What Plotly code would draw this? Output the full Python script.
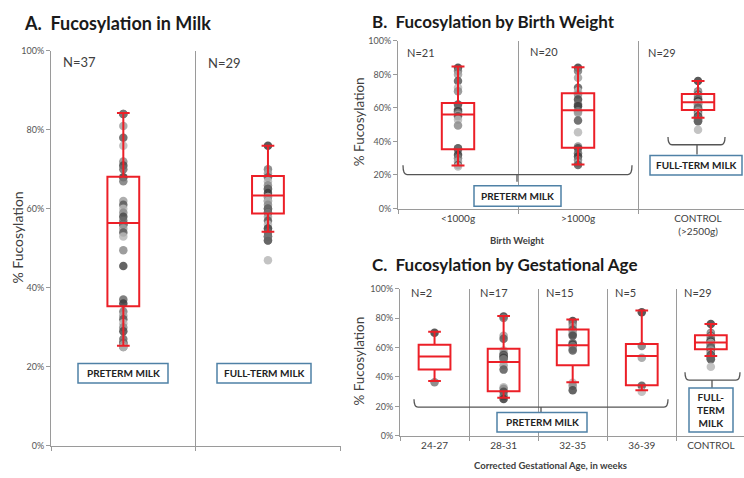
import plotly.graph_objects as go

W, H = 744, 478
RED = "#ec1f27"
AX = "#9a9a9a"
TXT = "#404040"
BOXBLUE = "#4f81a6"
FONT = "Lato, 'Open Sans', sans-serif"

# ---------------- data ----------------
a_cats = ["Preterm", "Full-term"]
a_preterm = [84, 84, 81, 78, 76, 72, 71, 70, 68, 67, 62, 61, 60, 59, 58, 57, 56, 56, 55,
             54, 53, 49.5, 45.5, 37, 36, 34, 33, 32, 31, 30, 29, 27, 26, 26, 25.5, 25, 25]
full_term = [76, 70, 69, 68, 67, 66, 65, 65, 64, 63, 63, 62, 62, 61, 60, 60, 59, 59, 58, 57,
             56, 55, 55, 54, 53, 53, 52, 52, 47]

b_cats = ["<1000g", ">1000g", "CONTROL<br>(>2500g)"]
b_lt1000 = [84, 82, 80, 76, 72, 70, 62, 59, 58, 57, 56, 55, 53, 49.5, 36, 35, 32, 30, 28, 26, 25]
b_gt1000 = [84, 82, 78, 72, 70, 68, 65, 62, 61, 58, 57, 52.5, 45.5, 37, 36, 33, 31, 29, 27, 26]

c_cats = ["24-27", "28-31", "32-35", "36-39", "CONTROL"]
c_24_27 = [70, 36.5]
c_28_31 = [81, 80, 68, 66, 58, 56, 55, 54, 53, 52, 48, 45, 33, 32, 30, 27, 25]
c_32_35 = [78, 76, 74, 72, 70, 69, 68, 63, 62, 61, 59, 58, 36, 34, 31]
c_36_39 = [84, 61, 53, 34, 30]

# box statistics: lower whisker, q1, median, q3, upper whisker
stat_preterm = [25.3, 35.3, 56.4, 68.1, 84.3]
stat_full = [54.2, 58.8, 63.4, 68.3, 76.0]
stat_lt1000 = [25.6, 35.3, 56.1, 62.9, 84.7]
stat_gt1000 = [26.2, 36.3, 58.6, 68.8, 84.3]
stat_24_27 = [37.2, 45.1, 53.9, 61.9, 70.8]
stat_28_31 = [25.9, 30.3, 50.2, 59.1, 81.4]
stat_32_35 = [36.5, 48.0, 61.5, 72.3, 79.0]
stat_36_39 = [31.0, 34.3, 54.2, 62.4, 85.1]

n_a = ["N=37", "N=29"]
n_b = ["N=21", "N=20", "N=29"]
n_c = ["N=2", "N=17", "N=15", "N=5", "N=29"]

y_ticks = [0, 20, 40, 60, 80, 100]
y_labels = [f"{v}%" for v in y_ticks]

GREYS = ["#3c3c3c", "#7a7a7a", "#a0a0a0", "#5a5a5a", "#b8b8b8", "#8c8c8c", "#4a4a4a", "#6a6a6a"]

def px(x):
    return x / W

def py(y):
    return 1 - y / H

fig = go.Figure()

# points on base axes, boxes on overlaying axes so red lines sit above the dots
def add_group(cat, vals, stat, width, xa, ya, xb, yb):
    shades = [GREYS[i % len(GREYS)] for i in range(len(vals))]
    fig.add_trace(go.Scatter(x=[cat] * len(vals), y=vals, mode="markers",
                             marker=dict(size=8.5, color=shades, opacity=0.85, line=dict(width=0)),
                             xaxis=xa, yaxis=ya, hoverinfo="y", showlegend=False))
    fig.add_trace(go.Box(x=[cat], lowerfence=[stat[0]], q1=[stat[1]], median=[stat[2]],
                         q3=[stat[3]], upperfence=[stat[4]], width=width, whiskerwidth=0.4,
                         line=dict(color=RED, width=2), fillcolor="rgba(0,0,0,0)",
                         boxpoints=False, xaxis=xb, yaxis=yb, showlegend=False))

add_group(a_cats[0], a_preterm, stat_preterm, 0.22, "x", "y", "x4", "y4")
add_group(a_cats[1], full_term, stat_full, 0.22, "x", "y", "x4", "y4")
add_group(b_cats[0], b_lt1000, stat_lt1000, 0.27, "x2", "y2", "x5", "y5")
add_group(b_cats[1], b_gt1000, stat_gt1000, 0.27, "x2", "y2", "x5", "y5")
add_group(b_cats[2], full_term, stat_full, 0.27, "x2", "y2", "x5", "y5")
for cat, vals, st in zip(c_cats, [c_24_27, c_28_31, c_32_35, c_36_39, full_term],
                         [stat_24_27, stat_28_31, stat_32_35, stat_36_39, stat_full]):
    add_group(cat, vals, st, 0.46, "x3", "y3", "x6", "y6")

def xaxis(cats, domain, rng, labels=True):
    return dict(type="category", categoryorder="array", categoryarray=cats,
                domain=domain, range=rng, tickson="boundaries", ticks="outside",
                ticklen=4, tickcolor=AX, showgrid=True, gridcolor=AX, gridwidth=1,
                showline=True, linecolor=AX, linewidth=1, showticklabels=labels,
                tickfont=dict(family=FONT, size=10, color=TXT), fixedrange=True)

def yaxis(domain, anchor):
    return dict(domain=domain, range=[0, 100], tickvals=y_ticks, ticktext=y_labels,
                ticks="outside", ticklen=4, tickcolor=AX, showline=True, linecolor=AX,
                linewidth=1, showgrid=False, zeroline=False, anchor=anchor,
                tickfont=dict(family=FONT, size=9, color="#555555"), fixedrange=True)

def ox(cats, rng, base, anchor):
    return dict(type="category", categoryorder="array", categoryarray=cats, range=rng,
                overlaying=base, anchor=anchor, visible=False, fixedrange=True)

def oy(base, anchor):
    return dict(range=[0, 100], overlaying=base, anchor=anchor, visible=False, fixedrange=True)

ra, rb, rc = [-0.5, 1.505], [-0.5, 2.383], [-0.5, 4.48]
fig.update_layout(
    width=W, height=H, margin=dict(l=0, r=0, t=0, b=0),
    paper_bgcolor="white", plot_bgcolor="rgba(0,0,0,0)", showlegend=False,
    boxmode="overlay",
    xaxis=xaxis(a_cats, [px(51), px(341)], ra, labels=False) | dict(anchor="y"),
    yaxis=yaxis([py(450), py(46)], "x"),
    xaxis2=xaxis(b_cats, [px(398), 1.0], rb) | dict(anchor="y2"),
    yaxis2=yaxis([py(207.3), py(35.7)], "x2"),
    xaxis3=xaxis(c_cats, [px(400), 1.0], rc) | dict(anchor="y3"),
    yaxis3=yaxis([py(440), py(289.3)], "x3"),
    xaxis4=ox(a_cats, ra, "x", "y4"), yaxis4=oy("y", "x4"),
    xaxis5=ox(b_cats, rb, "x2", "y5"), yaxis5=oy("y2", "x5"),
    xaxis6=ox(c_cats, rc, "x3", "y6"), yaxis6=oy("y3", "x6"),
)

ann = []
def text(x, y, s, size, bold=False, xanchor="left", angle=0, color=TXT):
    ann.append(dict(x=px(x), y=py(y), xref="paper", yref="paper", text=f"<b>{s}</b>" if bold else s,
                    showarrow=False, xanchor=xanchor, yanchor="middle", textangle=angle,
                    font=dict(family=FONT, size=size, color=color)))

# titles
text(22, 17, "A.&nbsp; Fucosylation in Milk", 18, bold=True, color="#1a1a1a")
text(370, 16, "B.&nbsp; Fucosylation by Birth Weight", 17, bold=True, color="#1a1a1a")
text(370, 265, "C.&nbsp; Fucosylation by Gestational Age", 17, bold=True, color="#1a1a1a")
# y titles
text(18, 237, "% Fucosylation", 14, xanchor="center", angle=-90)
text(359, 119, "% Fucosylation", 13.5, xanchor="center", angle=-90)
text(359, 364, "% Fucosylation", 13.5, xanchor="center", angle=-90)
# N labels
for s, (x, y) in zip(n_a, [(61, 57), (206, 58)]):
    text(x, y, s, 13)
for s, (x, y) in zip(n_b, [(405, 48), (528, 47), (646, 48)]):
    text(x, y, s, 11)
for s, x in zip(n_c, [409, 478, 544, 613, 682]):
    text(x, 293, s, 11)
# x titles
text(517, 240, "Birth Weight", 9.5, bold=True, xanchor="center")
text(550, 470, "Corrected Gestational Age, in weeks", 9.5, bold=True, xanchor="center")

shapes = []
def label_box(x0, y0, x1, y1, s, size=10):
    shapes.append(dict(type="rect", xref="paper", yref="paper", x0=px(x0), x1=px(x1),
                       y0=py(y1), y1=py(y0), line=dict(color=BOXBLUE, width=1.5),
                       fillcolor="white", layer="above"))
    text((x0 + x1) / 2, (y0 + y1) / 2, s, size, bold=True, xanchor="center", color="#222222")

def brace(x0, x1, yt, yb, xc, yn, r=4):
    p = (f"M {px(x0)},{py(yt)} Q {px(x0)},{py(yb)} {px(x0 + r)},{py(yb)} "
         f"L {px(x1 - r)},{py(yb)} Q {px(x1)},{py(yb)} {px(x1)},{py(yt)} "
         f"M {px(xc)},{py(yb)} L {px(xc)},{py(yn)}")
    shapes.append(dict(type="path", xref="paper", yref="paper", path=p,
                       line=dict(color="#555555", width=1.3)))

label_box(78, 366, 168, 386, "PRETERM MILK")
label_box(217, 366, 311, 386, "FULL-TERM MILK")

brace(403, 632, 163, 172.5, 517, 180)
label_box(474, 184, 561, 205, "PRETERM MILK")
brace(668, 725, 134, 142, 697, 152)
label_box(650, 153, 742, 173, "FULL-TERM MILK")

brace(414, 668, 402.5, 410.5, 541, 416)
label_box(497, 416, 587, 436, "PRETERM MILK")
brace(685, 740, 375, 383, 712, 391)
label_box(689, 391, 733, 436, "FULL-<br>TERM<br>MILK")

fig.update_layout(annotations=ann, shapes=shapes)
fig.write_html("out.html")
